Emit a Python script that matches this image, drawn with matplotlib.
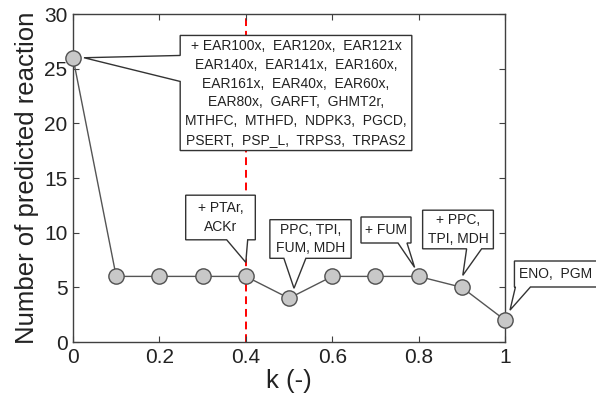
import matplotlib
matplotlib.use("Agg")
import matplotlib.pyplot as plt
from matplotlib.patches import Polygon
from matplotlib.transforms import IdentityTransform
import numpy as np

plt.rcParams['font.family'] = ['Liberation Sans', 'DejaVu Sans']

# ---- data ----
k_values = [0.0, 0.1, 0.2, 0.3, 0.4, 0.5, 0.6, 0.7, 0.8, 0.9, 1.0]
n_reactions = [26, 6, 6, 6, 6, 4, 6, 6, 6, 5, 2]
threshold_k = 0.4
x_ticks = [0, 0.2, 0.4, 0.6, 0.8, 1]
x_tick_labels = ['0', '0.2', '0.4', '0.6', '0.8', '1']
y_ticks = [0, 5, 10, 15, 20, 25, 30]
callout_texts = [
    "+ EAR100x,  EAR120x,  EAR121x\nEAR140x,  EAR141x,  EAR160x,\nEAR161x,  EAR40x,  EAR60x,\n"
    "EAR80x,  GARFT,  GHMT2r,\nMTHFC,  MTHFD,  NDPK3,  PGCD,\nPSERT,  PSP_L,  TRPS3,  TRPAS2",
    "+ PTAr,\nACKr",
    "PPC, TPI,\nFUM, MDH",
    "+ FUM",
    "+ PPC,\nTPI, MDH",
    "ENO,  PGM",
]
callout_point_index = [0, 4, 5, 8, 9, 10]

# ---- figure ----
W, H = 596, 407
fig = plt.figure(figsize=(W / 100, H / 100), dpi=100)
ax = fig.add_axes([73 / W, 1 - 342 / H, 432 / W, 328 / H])

ax.axvline(threshold_k, color='red', linestyle=(0, (4, 2.5)), linewidth=1.4, zorder=1)
ax.plot(k_values, n_reactions, color='#555555', linewidth=1.0, marker='o',
        markersize=11, markerfacecolor='#c8c8c8', markeredgecolor='#505050',
        markeredgewidth=1.0, zorder=3, clip_on=False)

ax.set_xlim(0, 1)
ax.set_ylim(0, 30)
ax.set_xticks(x_ticks)
ax.set_xticklabels(x_tick_labels)
ax.set_yticks(y_ticks)
ax.tick_params(direction='in', length=4, width=0.8, colors='#404040',
               labelcolor='#222222', labelsize=15, top=True, right=True, pad=4)
for s in ax.spines.values():
    s.set_color('#404040')
    s.set_linewidth(1.0)
ax.set_xlabel('k (-)', fontsize=18.5, color='#222222', labelpad=2)
ax.set_ylabel('Number of predicted reaction', fontsize=18.5, color='#222222', labelpad=4)

# ---- callouts (layout in pixel terms) ----
def px2data(px, py):
    return ((px - 73) / 432, (342 - py) / 328 * 30)

# center (image px), pad (x,y), side, base offsets (px from left/top edge), tip offset (image px)
layout = [
    ((296, 93), (5, 4), 'left', (20, 46), (11, 0)),
    ((220.5, 217.5), (12, 6), 'bottom', (41, 62), (0, -14)),
    ((310.5, 239), (6, 3), 'bottom', (14, 36), (5, -10)),
    ((386, 230), (4, 6), 'bottom', (37, 46), (-4, -9)),
    ((458, 229.5), (5, 3), 'bottom', (44, 59), (1, -12)),
    ((556, 274), (5, 6), 'bottom', (1, 16), (5, -10)),
]

texts = []
for txt, (c, pad, side, base, toff) in zip(callout_texts, layout):
    xd, yd = px2data(*c)
    t = ax.text(xd, yd, txt, ha='center', va='center', fontsize=10,
                linespacing=1.42, color='#222222', zorder=6, clip_on=False)
    texts.append(t)

fig.canvas.draw()
renderer = fig.canvas.get_renderer()

for t, idx, (c, pad, side, base, toff) in zip(texts, callout_point_index, layout):
    bb = t.get_window_extent(renderer)
    x0, x1 = bb.x0 - pad[0], bb.x1 + pad[0]
    y0, y1 = bb.y0 - pad[1], bb.y1 + pad[1]
    px, py = ax.transData.transform((k_values[idx], n_reactions[idx]))
    tx, ty = px + toff[0], py - toff[1]
    if side == 'left':
        verts = [(x0, y1), (x0, y1 - base[0]), (tx, ty), (x0, y1 - base[1]),
                 (x0, y0), (x1, y0), (x1, y1)]
    else:
        verts = [(x0, y0), (x0 + base[0], y0), (tx, ty), (x0 + base[1], y0),
                 (x1, y0), (x1, y1), (x0, y1)]
    poly = Polygon(verts, closed=True, facecolor='white', edgecolor='#333333',
                   linewidth=1.0, transform=IdentityTransform(), zorder=5,
                   clip_on=False)
    ax.add_patch(poly)

fig.savefig('out.png', dpi=100)
